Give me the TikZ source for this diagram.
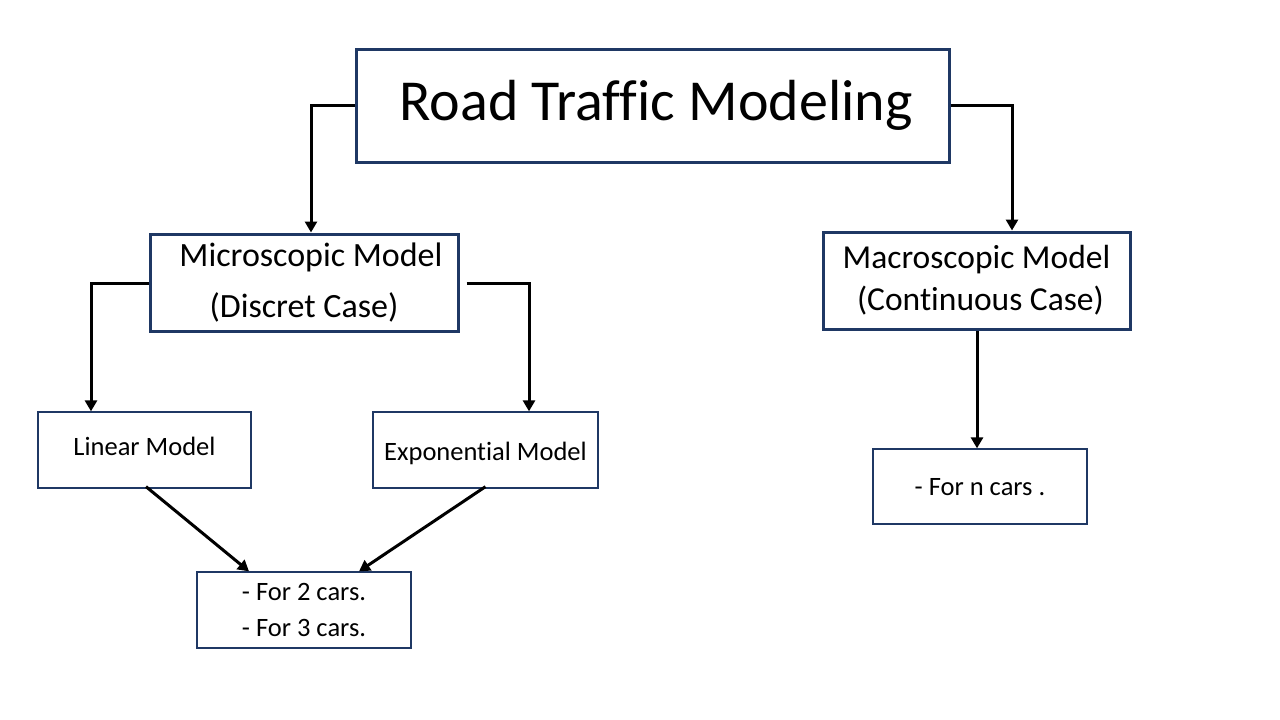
\documentclass[tikz,border=0pt]{standalone}
\usepackage{fontspec}
\setmainfont[Ligatures=CommonOff]{Carlito}
\usetikzlibrary{arrows.meta}
\definecolor{navy}{RGB}{31,56,100}
\begin{document}
\begin{tikzpicture}[x=1pt,y=-1pt,
  bigbox/.style={draw=navy,line width=3pt,fill=white,align=center,inner sep=0pt},
  smallbox/.style={draw=navy,line width=1.3pt,fill=white,align=center,inner sep=0pt,font=\fontsize{26.5}{36}\selectfont},
  onetext/.style={text height=18pt,text depth=6pt},
  conn/.style={line width=3pt,black,-{Triangle[length=11pt,width=12pt]}}]
\useasboundingbox (0,0) rectangle (1280,720);
\node[bigbox,minimum width=593pt,minimum height=113pt,font=\fontsize{58}{58}\selectfont] (road) at (652.5,105.5) {\hspace*{7pt}Road Traffic Modeling};
\node[bigbox,minimum width=308pt,minimum height=97pt,font=\fontsize{34}{51}\selectfont] (micro) at (304,282.5) {\hspace*{14pt}Microscopic Model\\(Discret Case)};
\node[bigbox,minimum width=307pt,minimum height=97pt,font=\fontsize{33.5}{42}\selectfont] (macro) at (976.5,280.5) {Macroscopic Model\\\hspace*{8pt}(Continuous Case)};
\node[smallbox,onetext,minimum width=213pt,minimum height=76pt] (linear) at (144.5,450) {\raisebox{1pt}{Linear Model}};
\node[smallbox,onetext,minimum width=225pt,minimum height=76pt] (expo) at (485.5,450) {\raisebox{-4pt}{Exponential Model}};
\node[smallbox,minimum width=214pt,minimum height=76pt] (cars) at (304,610) {- For 2 cars.\\- For 3 cars.};
\node[smallbox,onetext,minimum width=214pt,minimum height=75pt] (ncars) at (980,486.5) {\raisebox{-3pt}{- For n cars .}};
\draw[conn] (road.west) -| (micro.north -| 311,0);
\draw[conn] (road.east) -| (macro.north -| 1012,0);
\draw[conn] (micro.west |- 0,283) -| (linear.north -| 91,0);
\draw[conn] ([xshift=7pt]micro.east |- 0,283) -| (expo.north -| 529,0);
\draw[conn] (macro.south -| 977,0) -- (ncars.north -| 977,0);
\draw[conn] ([xshift=1.5pt,yshift=2pt]linear.south) -- ([xshift=-55pt]cars.north);
\draw[conn] ([yshift=2pt]expo.south) -- ([xshift=55pt]cars.north);
\end{tikzpicture}
\end{document}
